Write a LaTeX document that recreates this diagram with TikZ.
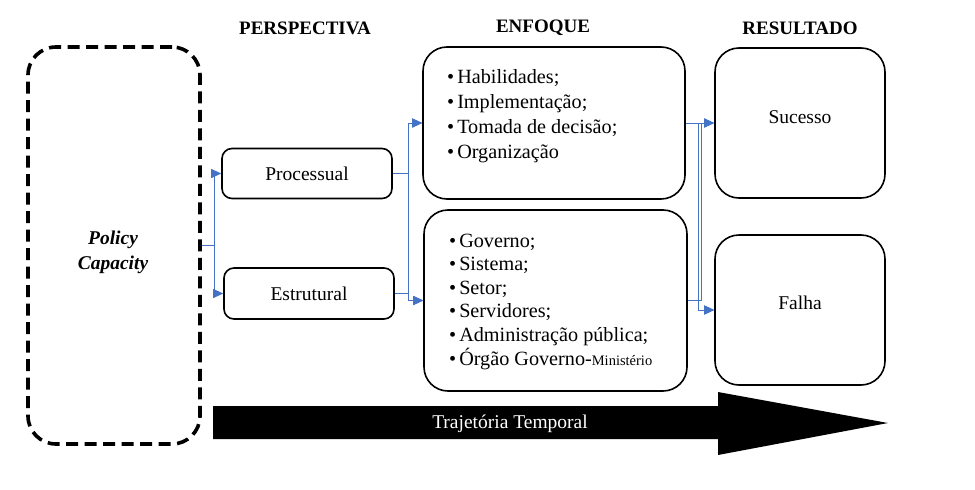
\documentclass[tikz,border=0pt]{standalone}
\usepackage{fontspec}
\setmainfont{Liberation Serif}
\usetikzlibrary{arrows.meta}
\definecolor{connblue}{HTML}{4472C4}
\begin{document}
\begin{tikzpicture}[x=1pt,y=-1pt,
  box/.style={draw, line width=1.6pt, rounded corners=10pt, inner sep=0pt,
    font=\fontsize{19.5}{24}\selectfont},
  bigbox/.style={box, rounded corners=24pt},
  dashbox/.style={draw, line width=3.6pt, dash pattern=on 12pt off 6.5pt, rounded corners=28pt},
  header/.style={font=\bfseries\fontsize{19}{22}\selectfont},
  listtext/.style={anchor=north west, inner sep=0pt, align=left},
  conn/.style={draw=connblue, line width=0.9pt, -{Triangle[length=10pt,width=9pt]}}
]
\useasboundingbox (0,0) rectangle (975,490);

% headers
\node[header] (h1) at (305,28) {PERSPECTIVA};
\node[header] (h2) at (543,28) {ENFOQUE};
\node[header] (h3) at (800,28) {RESULTADO};

% policy capacity
\node[dashbox, minimum width=172pt, minimum height=397pt] (pc) at (114,245.5) {};
\node[font=\bfseries\itshape\fontsize{19.5}{25}\selectfont, align=center] (pcl) at (113,252) {Policy\\Capacity};

% perspectiva
\node[box, minimum width=170pt, minimum height=50pt] (proc) at (307,173.5) {Processual};
\node[box, minimum width=170pt, minimum height=51pt] (estr) at (309,293.5) {Estrutural};

% enfoque
\node[bigbox, minimum width=262pt, minimum height=152pt] (enf1) at (554,123) {};
\node[bigbox, minimum width=263pt, minimum height=181pt] (enf2) at (555.5,300.5) {};
\node[listtext, font=\fontsize{20.2}{25}\selectfont] (l1) at (447,69)
  {\textbullet\hspace{3pt}Habilidades;\\
   \textbullet\hspace{3pt}Implementação;\\
   \textbullet\hspace{3pt}Tomada de decisão;\\
   \textbullet\hspace{3pt}Organização};
\node[listtext, font=\fontsize{20.2}{23.6}\selectfont] (l2) at (449,233.5)
  {\textbullet\hspace{3pt}Governo;\\
   \textbullet\hspace{3pt}Sistema;\\
   \textbullet\hspace{3pt}Setor;\\
   \textbullet\hspace{3pt}Servidores;\\
   \textbullet\hspace{3pt}Administração pública;\\
   \textbullet\hspace{3pt}Órgão Governo-{\fontsize{14.5}{15}\selectfont Ministério}};

% resultado
\node[bigbox, minimum width=170pt, minimum height=150pt] (suc) at (800,123) {};
\node[font=\fontsize{19.5}{24}\selectfont] (suct) at (800,117) {Sucesso};
\node[bigbox, minimum width=170pt, minimum height=150pt] (fal) at (800,310) {};
\node[font=\fontsize{19.5}{24}\selectfont] (falt) at (800,303) {Falha};

% time arrow
\fill (213,406) -- (718,406) -- (718,392) -- (888,423) -- (718,455) -- (718,439) -- (213,439) -- cycle;
\node[text=white, font=\fontsize{19.5}{24}\selectfont] (tt) at (510,424) {Trajetória Temporal};

% connectors
\draw[conn] (pc.east) -- ++(13,0) |- (proc.west);
\draw[conn] (pc.east) -- ++(13,0) |- (estr.west);
\draw[conn] (proc.east) -- ++(16,0) |- (enf1.west);
\draw[conn] (proc.east) -- ++(16,0) |- (enf2.west);
\draw[conn] (estr.east) -- ++(14,0) |- (enf1.west);
\draw[conn] (estr.east) -- ++(14,0) |- (enf2.west);
\draw[conn] (enf1.east) -- (suc.west);
\draw[conn] (enf1.east) -- ++(13,0) |- (fal.west);
\draw[conn] (enf2.east) -- ++(13.5,0) |- (suc.west);
\draw[conn] (enf2.east) -- ++(10.5,0) |- (fal.west);
\end{tikzpicture}
\end{document}
